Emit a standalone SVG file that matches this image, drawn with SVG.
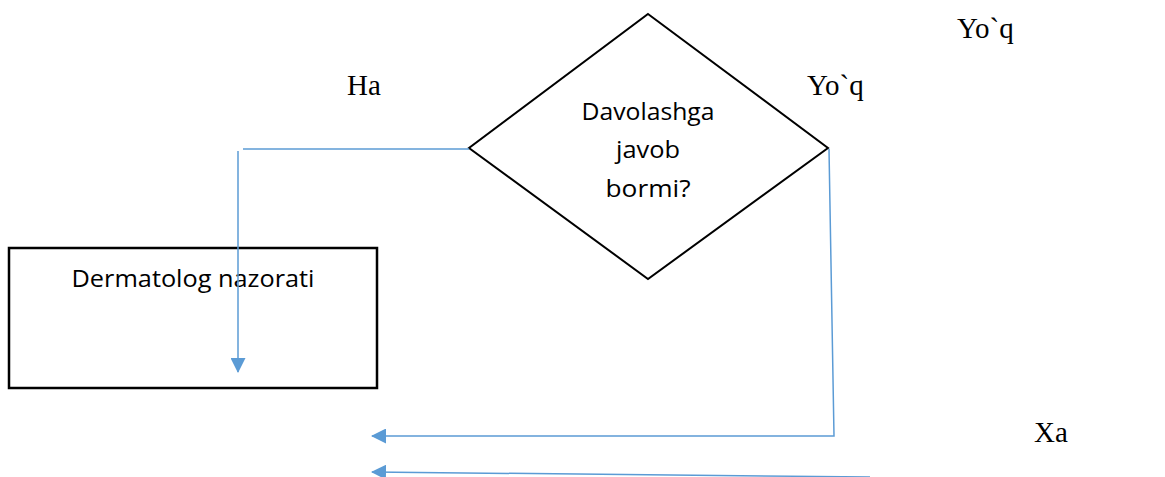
<svg xmlns="http://www.w3.org/2000/svg" width="1165" height="477" viewBox="0 0 1165 477">
<style>
.shape{fill:#fff;stroke:#000;stroke-width:2}
.box{stroke-width:2.5}
.conn{fill:none;stroke:#5B9BD5;stroke-width:1.5}
.sans{font-family:"Open Sans","Liberation Sans",sans-serif;font-size:24px;fill:#000;text-anchor:middle}
.serif{font-family:"Liberation Serif","Times New Roman",serif;font-size:29px;fill:#000}
</style>
<defs>
<marker id="arr" markerWidth="15" markerHeight="15" refX="14" refY="7.5" orient="auto" markerUnits="userSpaceOnUse" viewBox="0 0 15 15">
<path d="M0,0 L15,7.5 L0,15 z" fill="#5B9BD5"/>
</marker>
</defs>
<rect width="1165" height="477" fill="#fff"/>
<g id="decision">
<polygon class="shape" points="648,14 828,148 648,279 469,148"/>
<text class="sans" x="648" y="120" textLength="133" lengthAdjust="spacingAndGlyphs">Davolashga</text>
<text class="sans" x="648" y="158" textLength="64" lengthAdjust="spacingAndGlyphs">javob</text>
<text class="sans" x="648" y="197" textLength="85" lengthAdjust="spacingAndGlyphs">bormi?</text>
</g>
<g id="dermatolog">
<rect class="shape box" x="9" y="248" width="368" height="140"/>
<text class="sans" x="193" y="287" textLength="243" lengthAdjust="spacingAndGlyphs">Dermatolog nazorati</text>
</g>
<g id="connectors">
<path class="conn" d="M469,149 L243,149"/>
<path class="conn" d="M238,151 L238,372" marker-end="url(#arr)"/>
<path class="conn" d="M829,149 L834,436 L372,436" marker-end="url(#arr)"/>
<path class="conn" d="M870,477 L372,472" marker-end="url(#arr)"/>
</g>
<g id="labels">
<text class="serif" x="347" y="95">Ha</text>
<text class="serif" x="807" y="95">Yo`q</text>
<text class="serif" x="957" y="38">Yo`q</text>
<text class="serif" x="1034" y="442">Xa</text>
</g>
</svg>
